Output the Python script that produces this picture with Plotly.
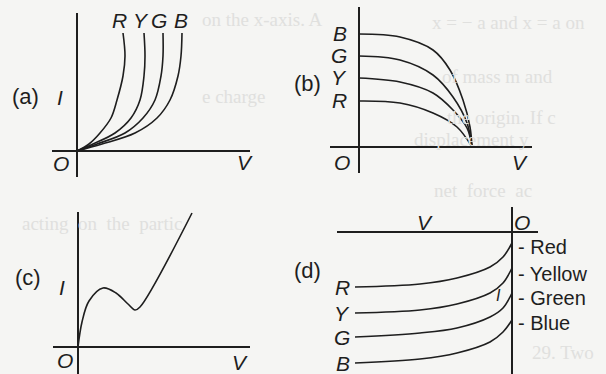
import plotly.graph_objects as go

# -----------------------------
# Canvas (pixels) and helpers
# -----------------------------
W, H = 606, 374
INK = "#1e1e1e"
PAPER = "#f5f5f3"
FONT = "Liberation Sans, Arial, sans-serif"


def xdom(left, right):
    return [left / W, right / W]


def ydom(top, bottom):
    return [1 - bottom / H, 1 - top / H]


# -----------------------------
# Data (arbitrary units, origin at 0,0)
# -----------------------------
labels = ["R", "Y", "G", "B"]

# (a) I rises with V, curves turn vertical
a_v = {
    "R": [0, 12, 23, 34, 40, 46, 48, 46],
    "Y": [0, 16, 38, 54, 63, 67, 68, 67],
    "G": [0, 20, 48, 66, 78, 84, 86, 86],
    "B": [0, 25, 58, 80, 93, 101, 104, 105],
}
a_i = [0, 7, 18, 33, 51, 75, 95, 118]

# (b) I falls to zero at same stopping voltage
b_v = {
    "B": [0, 41, 74, 91, 104, 111, 113],
    "G": [0, 41, 74, 94, 108, 113],
    "Y": [0, 41, 74, 94, 108, 113],
    "R": [0, 41, 74, 98, 113],
}
b_i = {
    "B": [113, 110, 97, 77, 47, 20, 0],
    "G": [91, 87, 72, 50, 24, 0],
    "Y": [69, 65, 54, 37, 19, 0],
    "R": [46, 44, 34, 20, 0],
}

# (c) N-shaped characteristic
c_v = [0, 4, 11, 25, 38, 50, 57, 62, 114]
c_i = [0, 25, 46, 59, 54, 43, 37, 40, 134]

# (d) negative quadrant curves
d_v = [-157, -92, -55, -22, -9, 0]
d_i = {
    "R": [-55, -52, -46, -35, -25, -11],
    "Y": [-81, -78, -72, -61, -51, -36],
    "G": [-105, -101, -96, -85, -76, -61],
    "B": [-131, -127, -121, -110, -100, -88],
}
d_names = ["Red", "Yellow", "Green", "Blue"]

# panel frames: pixel box of the drawn axes and the data range
panels = {
    "a": dict(box=(52, 250, 13, 177), xr=[-25, 173], yr=[-26, 138]),
    "b": dict(box=(330, 532, 7, 173), xr=[-29, 173], yr=[-26, 140]),
    "c": dict(box=(53, 250, 212, 374), xr=[-25, 172], yr=[-27, 135]),
    "d": dict(box=(337, 538, 207, 374), xr=[-175, 26], yr=[-142, 25]),
}

fig = go.Figure()
layout_axes = {}
for n, key in enumerate(["a", "b", "c", "d"], start=1):
    p = panels[key]
    l, r, t, b = p["box"]
    sfx = "" if n == 1 else str(n)
    common = dict(showgrid=False, showticklabels=False, ticks="",
                  zeroline=True, zerolinecolor=INK, zerolinewidth=1.6,
                  showline=False, fixedrange=True)
    layout_axes["xaxis" + sfx] = dict(domain=xdom(l, r), range=p["xr"],
                                      anchor="y" + sfx, **common)
    layout_axes["yaxis" + sfx] = dict(domain=ydom(t, b), range=p["yr"],
                                      anchor="x" + sfx, **common)


def curve(x, y, ax):
    fig.add_trace(go.Scatter(
        x=x, y=y, mode="lines", line=dict(color=INK, width=1.6, shape="spline"),
        xaxis="x" + ax, yaxis="y" + ax, hoverinfo="skip", showlegend=False))


for k in labels:
    curve(a_v[k], a_i, "")
    curve(b_v[k], b_i[k], "2")
    curve(d_v, d_i[k], "4")
curve(c_v, c_i, "3")

ann = []


def txt(x, y, s, ax="", size=21, anchor="center", ref="data"):
    if ref == "paper":
        ann.append(dict(x=x / W, y=1 - y / H, xref="paper", yref="paper", text=s,
                        showarrow=False, xanchor=anchor, yanchor="middle",
                        font=dict(family=FONT, size=size, color=INK)))
    else:
        ann.append(dict(x=x, y=y, xref="x" + ax, yref="y" + ax, text=s,
                        showarrow=False, xanchor=anchor, yanchor="middle",
                        font=dict(family=FONT, size=size, color=INK)))


# faint show-through text of the printed page (drawn first, underneath)
ghost = [
    (430, 22, "x = − a and x = a on"),
    (200, 20, "on the x-axis. A"),
    (200, 97, "e charge"),
    (440, 77, "of mass m and"),
    (445, 118, "the origin. If c"),
    (412, 140, "displacement y"),
    (20, 223, "acting  on  the  partic"),
    (432, 190, "net  force  ac"),
    (530, 352, "29. Two"),
]
for gx, gy, gs in ghost:
    ann.append(dict(x=gx / W, y=1 - gy / H, xref="paper", yref="paper", text=gs,
                    showarrow=False, xanchor="left", yanchor="middle",
                    font=dict(family="Liberation Serif, serif", size=19,
                              color="#e0e0de")))

# panel tags
txt(25, 97, "(a)", ref="paper", size=22)
txt(307, 83, "(b)", ref="paper", size=22)
txt(28, 277, "(c)", ref="paper", size=22)
txt(307, 270, "(d)", ref="paper", size=22)

# (a) labels
for k, xv in zip(labels, [42, 64, 82, 104]):
    txt(xv, 131, "<i>%s</i>" % k)
txt(-17, 54, "<i>I</i>")
txt(-16, -12, "<i>O</i>")
txt(168, -11, "<i>V</i>")

# (b) labels
for k in labels:
    txt(-10, b_i[k][0], "<i>%s</i>" % k, ax="2", anchor="right")
txt(-17, -15, "<i>O</i>", ax="2")
txt(161, -15, "<i>V</i>", ax="2")

# (c) labels
txt(-16, 60, "<i>I</i>", ax="3")
txt(-13, -13, "<i>O</i>", ax="3")
txt(162, -15, "<i>V</i>", ax="3")

# (d) labels
for k in labels:
    txt(-160, d_i[k][0], "<i>%s</i>" % k, ax="4", anchor="right")
for name, yv in zip(d_names, [-15, -42, -66, -91]):
    txt(4, yv, "- " + name, ax="4", size=20, anchor="left")
txt(-87, 10, "<i>V</i>", ax="4")
txt(10, 10, "<i>O</i>", ax="4")
txt(-14, -63, "<i>I</i>", ax="4", size=16)

fig.update_layout(
    width=W, height=H,
    margin=dict(l=0, r=0, t=0, b=0),
    paper_bgcolor=PAPER, plot_bgcolor="rgba(0,0,0,0)",
    annotations=ann, showlegend=False,
    **layout_axes,
)
fig.write_html("out.html", config={"displayModeBar": False},
               post_script="document.body.style.margin='0';")
